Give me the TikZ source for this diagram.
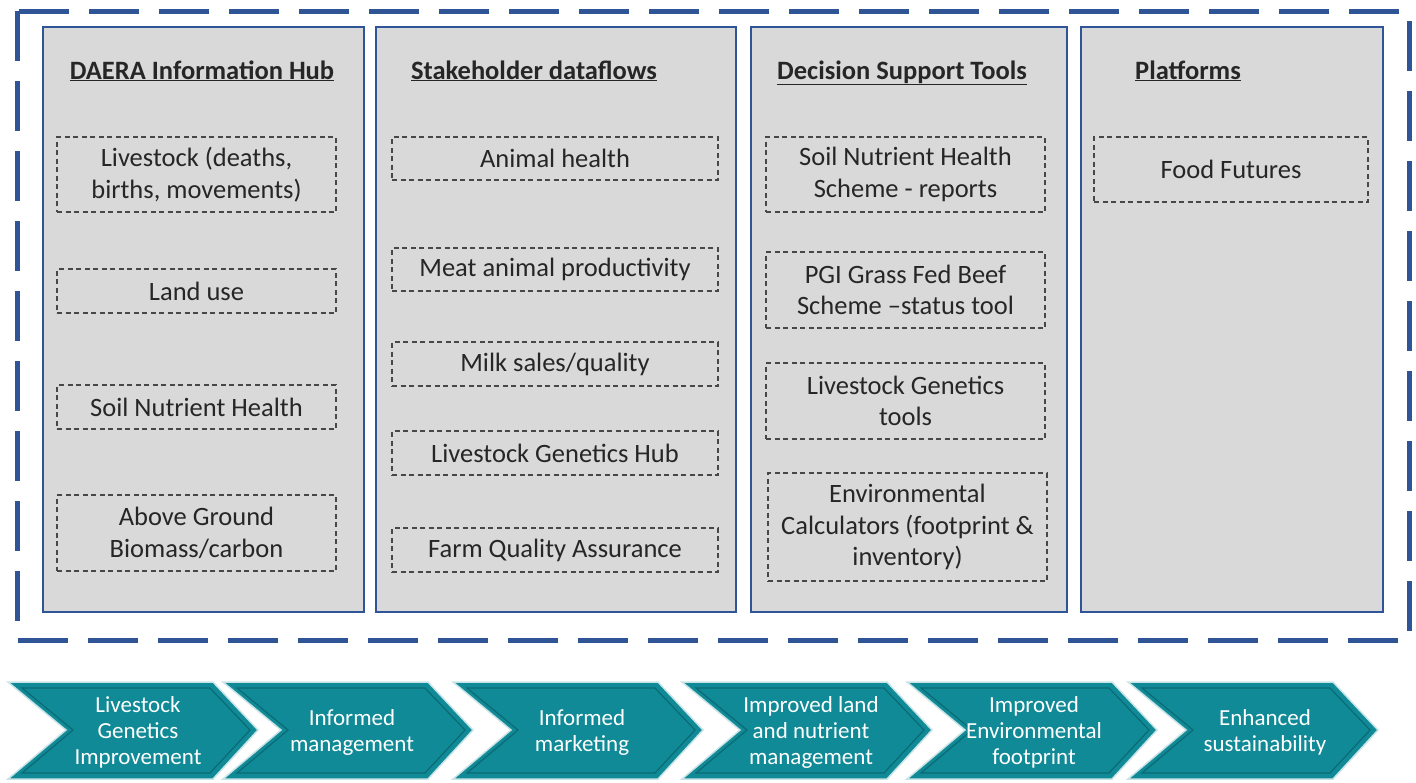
\documentclass[tikz,border=0pt]{standalone}
\usepackage{fontspec}
\setmainfont{Carlito}
\definecolor{frameblue}{HTML}{2F5597}
\definecolor{panelgray}{HTML}{D9D9D9}
\definecolor{txtdark}{HTML}{262626}
\definecolor{teal}{HTML}{108A96}
\definecolor{tealdark}{HTML}{0B6B75}
\definecolor{teallight}{HTML}{C9E4E7}
\tikzset{
  panel/.style={draw=frameblue, line width=2pt, fill=panelgray},
  ptitle/.style={font=\fontsize{26.5}{30}\selectfont\bfseries, text=txtdark, inner sep=0pt},
  ibox/.style={draw=txtdark!85, line width=1.4pt, dash pattern=on 5pt off 3.5pt, align=center,
     font=\fontsize{26.5}{31.5}\selectfont, text=txtdark, inner sep=0pt},
  chev/.style={fill=teal, draw=teallight, line width=1.5pt},
  chevin/.style={draw=tealdark, line width=1.2pt},
  ctext/.style={align=center, text=white, font=\fontsize{23}{26}\selectfont, inner sep=0pt}
}
\newcommand{\ul}[1]{\underline{#1}}
\begin{document}
\begin{tikzpicture}[x=1pt,y=-1pt]
\useasboundingbox (0,0) rectangle (1416,782);
% outer dashed frame
\draw[frameblue, line width=5pt, dash pattern=on 50pt off 20pt] (17,11) rectangle (1409,640);
% panels
\draw[panel] (43,27) rectangle (364,612);
\draw[panel] (376,27) rectangle (736,612);
\draw[panel] (751,27) rectangle (1067,612);
\draw[panel] (1081,27) rectangle (1383,612);
% titles
\node[ptitle, anchor=base] (t1) at (202,79) {\ul{DAERA Information Hub}};
\node[ptitle, anchor=base] (t2) at (534,79) {\ul{Stakeholder dataflows}};
\node[ptitle, anchor=base] (t3) at (902,79) {\ul{Decision Support Tools}};
\node[ptitle, anchor=base west] (t4) at (1135,79) {\ul{Platforms}};
% panel 1
\node[ibox, minimum width=279pt, minimum height=75pt] (a1) at (196.5,174.5) {Livestock (deaths,\\births, movements)};
\node[ibox, minimum width=279pt, minimum height=44pt] (a2) at (196.5,291) {Land use};
\node[ibox, minimum width=279pt, minimum height=44pt] (a3) at (196.5,407) {Soil Nutrient Health};
\node[ibox, minimum width=279pt, minimum height=76pt] (a4) at (196.5,533) {Above Ground\\Biomass/carbon};
% panel 2
\node[ibox, minimum width=326pt, minimum height=43pt] (b1) at (555,158.5) {Animal health};
\node[ibox, minimum width=326pt, minimum height=43pt] (b2) at (555,269.5) {Meat animal productivity};
\node[ibox, minimum width=326pt, minimum height=44pt] (b3) at (555,364) {Milk sales/quality};
\node[ibox, minimum width=326pt, minimum height=44pt] (b4) at (555,453) {Livestock Genetics Hub};
\node[ibox, minimum width=326pt, minimum height=44pt] (b5) at (555,550) {Farm Quality Assurance};
% panel 3
\node[ibox, minimum width=279pt, minimum height=75pt] (c1) at (905.5,174.5) {Soil Nutrient Health\\Scheme - reports};
\node[ibox, minimum width=279pt, minimum height=76pt] (c2) at (905.5,290) {PGI Grass Fed Beef\\Scheme \textendash status tool};
\node[ibox, minimum width=279pt, minimum height=76pt] (c3) at (905.5,401) {Livestock Genetics\\tools};
\node[ibox, minimum width=279pt, minimum height=108pt] (c4) at (907.5,527) {Environmental\\Calculators (footprint \&\\inventory)};
% panel 4
\node[ibox, minimum width=274pt, minimum height=65pt] (d1) at (1231,169.5) {Food Futures};
% chevrons
\foreach \L [count=\i] in {8,223,453,682,907,1128}{
  \draw[chev] (\L,682) -- ++(205,0) -- ++(45,48) -- ++(-45,49) -- ++(-205,0) -- ++(58,-49) -- cycle;
  \draw[chevin] (\L+14,688) -- ++(188,0) -- ++(40,42) -- ++(-40,43) -- ++(-188,0) -- ++(51,-43) -- cycle;
}
\node[ctext] (e1) at (138,732) {Livestock\\Genetics\\Improvement};
\node[ctext] (e2) at (352,732) {Informed\\management};
\node[ctext] (e3) at (582,732) {Informed\\marketing};
\node[ctext] (e4) at (811,732) {Improved land\\and nutrient\\management};
\node[ctext] (e5) at (1034,732) {Improved\\Environmental\\footprint};
\node[ctext] (e6) at (1265,732) {Enhanced\\sustainability};
\end{tikzpicture}
\end{document}
